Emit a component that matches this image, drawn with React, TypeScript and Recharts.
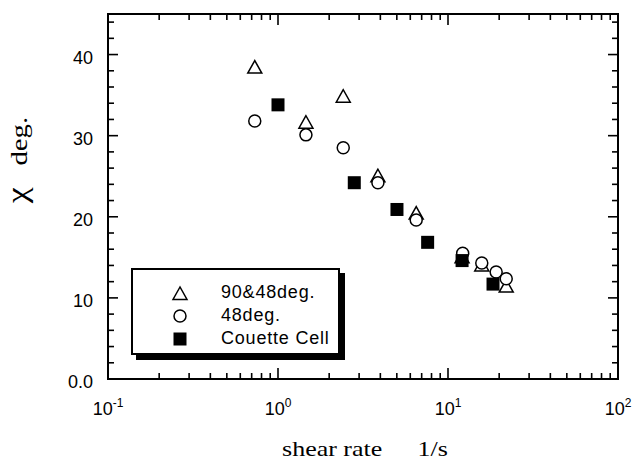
import React from 'react';
import { ScatterChart, Scatter, XAxis, YAxis, ReferenceArea, Legend } from 'recharts';

// values
const tri9048 = [
  { x: 0.73, y: 38.4 },
  { x: 1.46, y: 31.6 },
  { x: 2.42, y: 34.8 },
  { x: 3.87, y: 25.0 },
  { x: 6.5, y: 20.4 },
  { x: 12.1, y: 15.0 },
  { x: 15.8, y: 14.0 },
  { x: 22.0, y: 11.4 },
];

const circ48 = [
  { x: 0.73, y: 31.8 },
  { x: 1.46, y: 30.1 },
  { x: 2.42, y: 28.5 },
  { x: 3.87, y: 24.2 },
  { x: 6.5, y: 19.6 },
  { x: 12.2, y: 15.5 },
  { x: 15.8, y: 14.3 },
  { x: 19.2, y: 13.2 },
  { x: 22.0, y: 12.35 },
];

const couette = [
  { x: 1.0, y: 33.8 },
  { x: 2.81, y: 24.2 },
  { x: 5.01, y: 20.9 },
  { x: 7.59, y: 16.85 },
  { x: 12.1, y: 14.6 },
  { x: 18.4, y: 11.7 },
];

const seriesNames = ['90&48deg.', '48deg.', 'Couette Cell'];

const xTicks = [
  0.1, 0.2, 0.3, 0.4, 0.5, 0.6, 0.7, 0.8, 0.9,
  1, 2, 3, 4, 5, 6, 7, 8, 9,
  10, 20, 30, 40, 50, 60, 70, 80, 90, 100,
];
const xDecades: Record<number, string> = { 0.1: '-1', 1: '0', 10: '1', 100: '2' };

const yTicks = [0, 2, 4, 6, 8, 10, 12, 14, 16, 18, 20, 22, 24, 26, 28, 30, 32, 34, 36, 38, 40, 42, 44];
const yLabels: Record<number, string> = { 0: '0.0', 10: '10', 20: '20', 30: '30', 40: '40' };

const W = 637;
const H = 460;
const TOP = 14;
const RIGHT = 618;
const SANS = '"Liberation Sans", Arial, sans-serif';
const SERIF = '"Liberation Serif", "Times New Roman", serif';

const Triangle = ({ cx, cy }: any) => (
  <polygon
    points={`${cx},${cy - 7} ${cx - 7},${cy + 5.5} ${cx + 7},${cy + 5.5}`}
    fill="#fff"
    stroke="#000"
    strokeWidth={1.5}
  />
);
const Circle = ({ cx, cy }: any) => <circle cx={cx} cy={cy} r={6} fill="#fff" stroke="#000" strokeWidth={1.5} />;
const Square = ({ cx, cy }: any) => <rect x={cx - 6.5} y={cy - 6.5} width={13} height={13} fill="#000" />;

const XTick = ({ x, y, payload }: any) => {
  const v = payload.value;
  const major = xDecades[v] !== undefined;
  const len = major ? 11 : 6;
  return (
    <g>
      <line x1={x} x2={x} y1={y} y2={y - len} stroke="#000" strokeWidth={1.6} />
      <line x1={x} x2={x} y1={TOP} y2={TOP + len} stroke="#000" strokeWidth={1.6} />
      {major && (
        <text x={x} y={y + 36} textAnchor="middle" fontFamily={SANS} fontSize={18} fill="#000">
          10
          <tspan dy={-8} fontSize={12}>{xDecades[v]}</tspan>
        </text>
      )}
    </g>
  );
};

const YTick = ({ x, y, payload }: any) => {
  const v = payload.value;
  const major = yLabels[v] !== undefined;
  const len = major ? 10 : 6;
  return (
    <g>
      <line x1={x} x2={x + len} y1={y} y2={y} stroke="#000" strokeWidth={1.6} />
      <line x1={RIGHT - len} x2={RIGHT} y1={y} y2={y} stroke="#000" strokeWidth={1.6} />
      {major && (
        <text x={x - 15} y={y + 9} textAnchor="end" fontFamily={SANS} fontSize={18} fill="#000">
          {yLabels[v]}
        </text>
      )}
    </g>
  );
};

const symbolFor = (name: string) => {
  if (name === '90&48deg.') return <Triangle cx={9} cy={10} />;
  if (name === '48deg.') return <Circle cx={9} cy={9} />;
  return <Square cx={9} cy={9} />;
};

// legend drawn in the paper's order (triangle, circle, square)
const LegendBox = () => (
  <div
    style={{
      border: '2px solid #000',
      boxShadow: '5px 5px 0 #000',
      background: '#fff',
      height: 72,
      boxSizing: 'content-box',
      paddingTop: 11,
      fontFamily: SANS,
      fontSize: 18,
      letterSpacing: 0.8,
    }}
  >
    {seriesNames.map((name) => (
      <div key={name} style={{ display: 'flex', alignItems: 'center', height: 23 }}>
        <svg width={18} height={18} style={{ marginLeft: 38, marginRight: 32 }}>
          {symbolFor(name)}
        </svg>
        <span>{name}</span>
      </div>
    ))}
  </div>
);

const XTitle = ({ viewBox }: any) => {
  const cx = viewBox.x + viewBox.width / 2;
  return (
    <text
      transform={`translate(${cx + 2},${H - 4}) scale(1.18,1)`}
      textAnchor="middle"
      fontFamily={SERIF}
      fontSize={22}
      fill="#000"
    >
      <tspan>shear rate</tspan>
      <tspan dx={30}>1/s</tspan>
    </text>
  );
};

const YTitle = () => (
  <text
    transform="translate(27,160) rotate(-90) scale(1.2,1)"
    textAnchor="middle"
    fontFamily={SERIF}
    fontSize={24}
    fill="#000"
  >
    <tspan fontSize={30}>χ</tspan>
    <tspan dx={18}>deg.</tspan>
  </text>
);

export default function App() {
  return (
    <div style={{ position: 'absolute', left: 0, top: 0, background: '#fff' }}>
      <ScatterChart width={W} height={H} margin={{ top: TOP, right: W - RIGHT, left: 0, bottom: 0 }}>
        <XAxis
          type="number"
          dataKey="x"
          scale="log"
          domain={[0.1, 100]}
          ticks={xTicks}
          interval={0}
          allowDataOverflow
          height={81}
          tickSize={0}
          tickMargin={0}
          axisLine={false}
          tick={<XTick />}
          label={<XTitle />}
        />
        <YAxis
          type="number"
          dataKey="y"
          domain={[0, 45]}
          ticks={yTicks}
          interval={0}
          allowDataOverflow
          width={108}
          tickSize={0}
          tickMargin={0}
          axisLine={false}
          tick={<YTick />}
          label={<YTitle />}
        />
        <ReferenceArea x1={0.1} x2={100} y1={0} y2={45} fill="none" stroke="#000" strokeWidth={2} />
        <Legend
          verticalAlign="middle"
          layout="horizontal"
          wrapperStyle={{ left: 131, top: 268, width: 209 }}
          content={<LegendBox />}
        />
        <Scatter name="90&48deg." data={tri9048} shape={<Triangle />} isAnimationActive={false} />
        <Scatter name="48deg." data={circ48} shape={<Circle />} isAnimationActive={false} />
        <Scatter name="Couette Cell" data={couette} shape={<Square />} isAnimationActive={false} />
      </ScatterChart>
    </div>
  );
}
